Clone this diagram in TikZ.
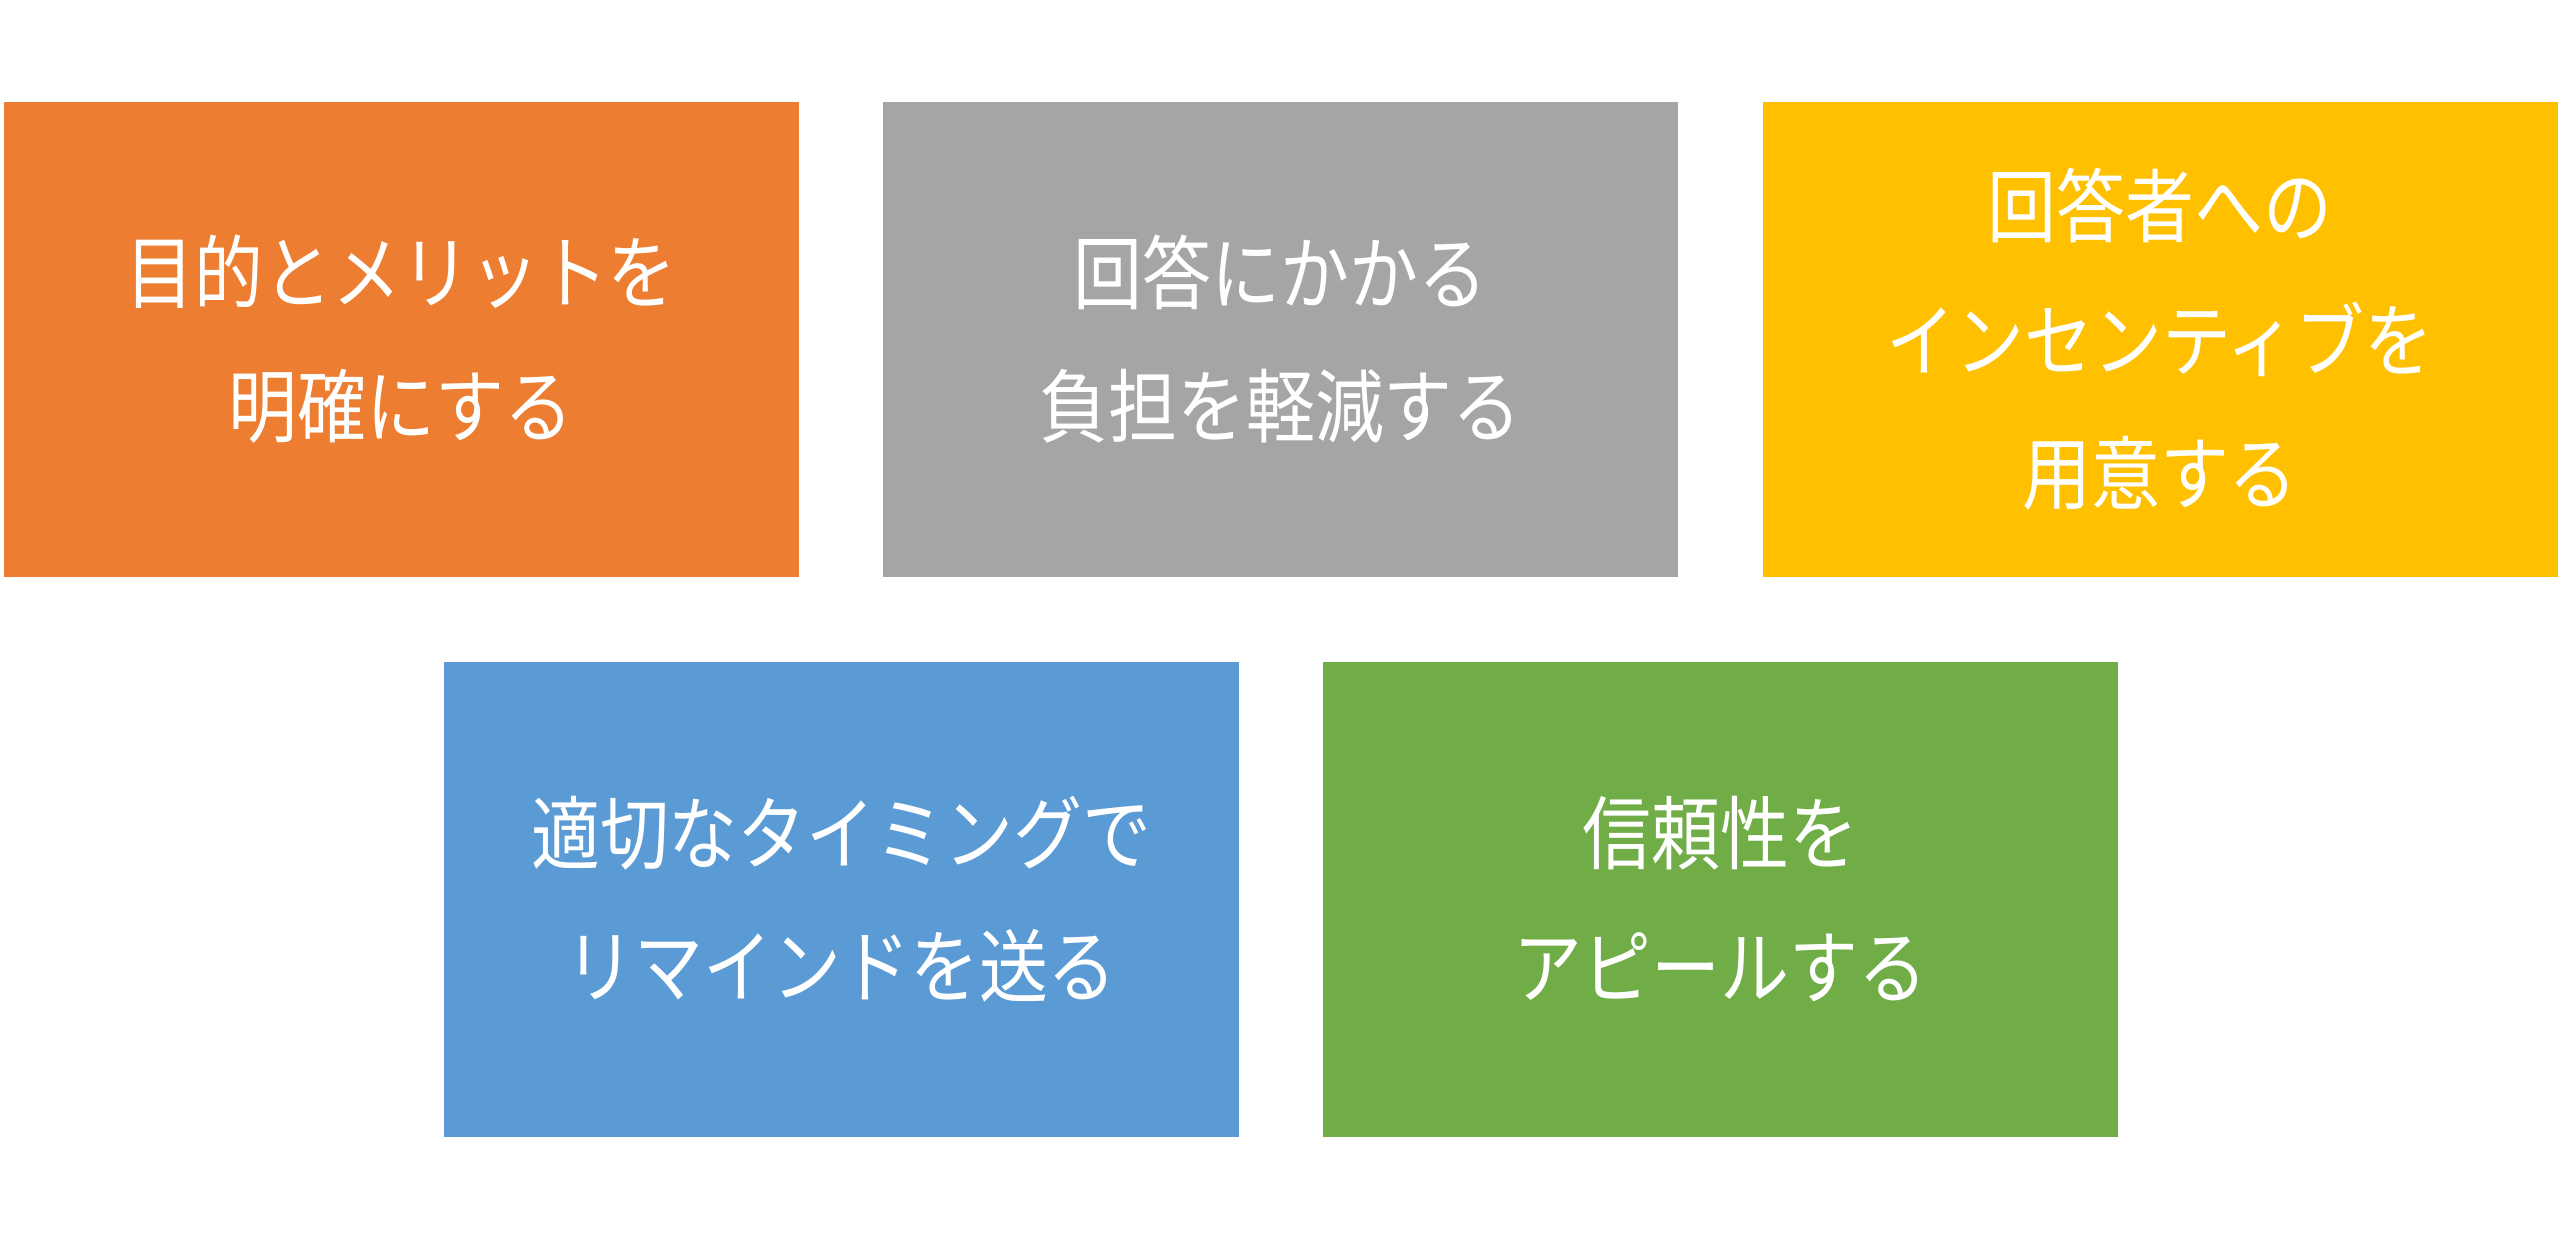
\documentclass[tikz,border=0pt]{standalone}
\usepackage{fontspec}
\newfontfamily\jp[FakeStretch=0.86]{Noto Sans CJK JP}
\usetikzlibrary{positioning}
\definecolor{laranja}{HTML}{ED7D31}
\definecolor{cinza}{HTML}{A5A5A5}
\definecolor{ouro}{HTML}{FFC000}
\definecolor{azul}{HTML}{5B9BD5}
\definecolor{verde}{HTML}{70AD47}

\begin{document}
\begin{tikzpicture}[card/.style={minimum width=7.95cm, minimum height=4.75cm, inner sep=0pt,
		align=center, text=white, font=\jp\fontsize{22.8}{38}\selectfont}]
	\useasboundingbox (0,0) rectangle (25.6,-12.39);
		% primeira linha
		\node [card, fill=laranja, anchor=north west] (mokuteki) at (0.03,-1.01)
			{目的とメリットを\\明確にする};
		\node [card, fill=cinza, right=0.83cm of mokuteki] (futan)
			{回答にかかる\\負担を軽減する};
		\node [card, fill=ouro, right=0.83cm of futan] (insentibu)
			{回答者への\\インセンティブを\\用意する};
		% segunda linha
		\node [card, fill=azul, anchor=north west] (rimaindo) at (4.43,-6.61)
			{適切なタイミングで\\リマインドを送る};
		\node [card, fill=verde, right=0.83cm of rimaindo] (shinrai)
			{信頼性を\\アピールする};
	\end{tikzpicture}
\end{document}
